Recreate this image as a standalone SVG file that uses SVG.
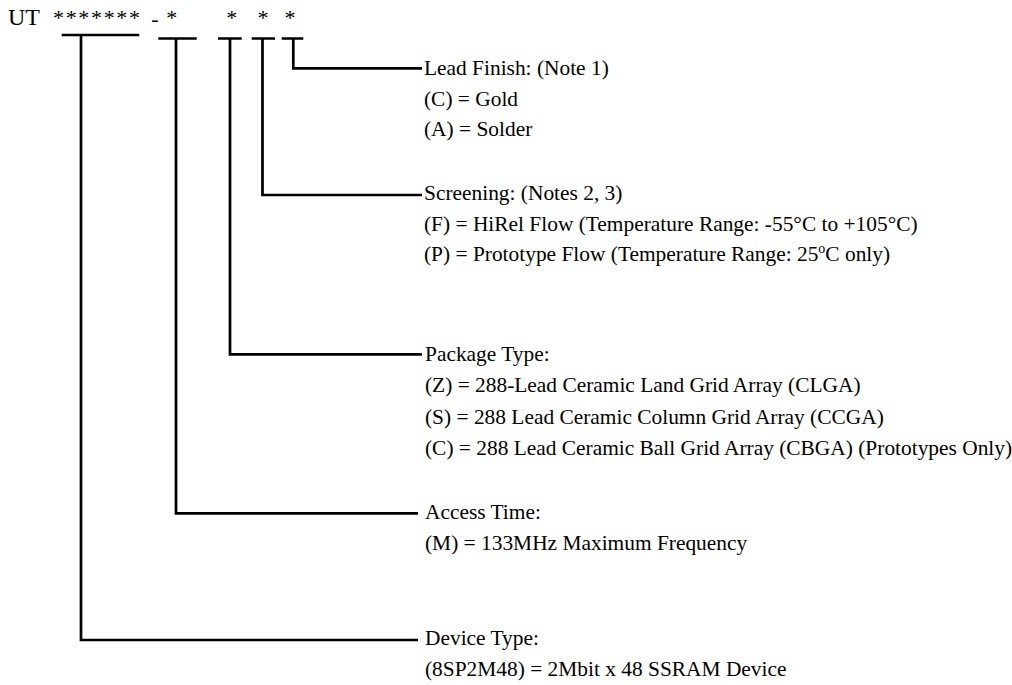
<svg xmlns="http://www.w3.org/2000/svg" width="1012" height="685" viewBox="0 0 1012 685">
<style>
.t{font-family:"Liberation Serif","Times New Roman",serif;font-size:21.4px;fill:#000}
.h{font-family:"Liberation Serif","Times New Roman",serif;font-size:24px;fill:#000}
.a{font-family:"Liberation Serif","Times New Roman",serif;font-size:22px;fill:#000}
.c{fill:none;stroke:#000;stroke-width:2.7}
.sup{font-size:14px}
</style>
<rect width="1012" height="685" fill="#fff"/>
<g id="code">
<text class="h" x="8" y="25">UT</text>
<text class="a" x="53" y="25" textLength="87" lengthAdjust="spacing">*******</text>
<text class="a" x="155" y="26" text-anchor="middle">-</text>
<text class="a" x="171.7" y="25" text-anchor="middle">*</text>
<text class="a" x="231.7" y="25" text-anchor="middle">*</text>
<text class="a" x="263" y="25" text-anchor="middle">*</text>
<text class="a" x="290" y="25" text-anchor="middle">*</text>
</g>
<g id="connectors">
<path class="c" d="M61.7 35H139.3M81 35V640H418"/>
<path class="c" d="M158.3 38.5H196.7M176 38.5V513.3H418"/>
<path class="c" d="M218 38.5H241.7M230 38.5V354.3H422"/>
<path class="c" d="M251.7 38.5H275M262.5 38.5V195H422"/>
<path class="c" d="M281.7 38.5H303.3M293.3 38.5V68.3H422"/>
</g>
<g id="lead-finish">
<text class="t" x="424" y="75">Lead Finish: (Note 1)</text>
<text class="t" x="424" y="105.5">(C) = Gold</text>
<text class="t" x="424" y="136">(A) = Solder</text>
</g>
<g id="screening">
<text class="t" x="424" y="200">Screening: (Notes 2, 3)</text>
<text class="t" x="424" y="230.5">(F) = HiRel Flow (Temperature Range: -55°C to +105°C)</text>
<text class="t" x="424" y="261">(P) = Prototype Flow (Temperature Range: 25<tspan class="sup" dy="-8">o</tspan><tspan dy="8">C only)</tspan></text>
</g>
<g id="package-type">
<text class="t" x="425" y="361">Package Type:</text>
<text class="t" x="425" y="392">(Z) = 288-Lead Ceramic Land Grid Array (CLGA)</text>
<text class="t" x="425" y="423.5">(S) = 288 Lead Ceramic Column Grid Array (CCGA)</text>
<text class="t" x="425" y="455">(C) = 288 Lead Ceramic Ball Grid Array (CBGA) (Prototypes Only)</text>
</g>
<g id="access-time">
<text class="t" x="425" y="518.5">Access Time:</text>
<text class="t" x="425" y="549.5">(M) = 133MHz Maximum Frequency</text>
</g>
<g id="device-type">
<text class="t" x="425" y="645">Device Type:</text>
<text class="t" x="425" y="676">(8SP2M48) = 2Mbit x 48 SSRAM Device</text>
</g>
</svg>
